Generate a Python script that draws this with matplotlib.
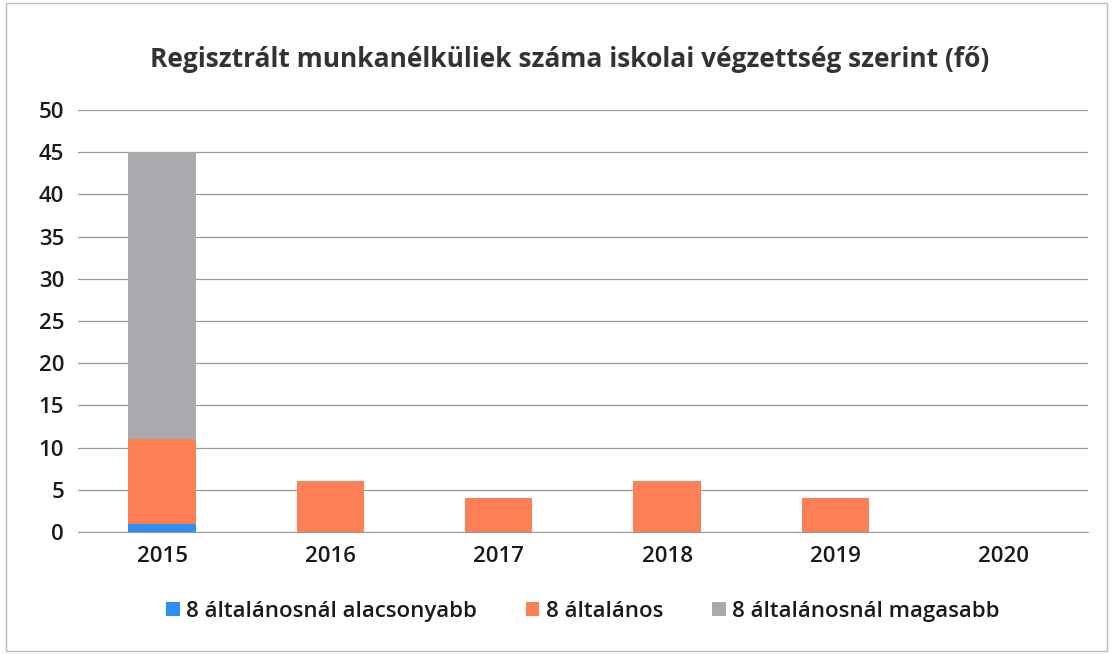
import matplotlib.pyplot as plt
import numpy as np

# data
years = ["2015", "2016", "2017", "2018", "2019", "2020"]
below_8 = [1, 0, 0, 0, 0, 0]
eight_grade = [10, 6, 4, 6, 4, 0]
above_8 = [34, 0, 0, 0, 0, 0]
labels = ["8 általánosnál alacsonyabb", "8 általános", "8 általánosnál magasabb"]
colors = ["#2f8ff0", "#fd7f55", "#a8aaae"]

plt.rcParams["font.family"] = ["Open Sans", "DejaVu Sans"]

fig = plt.figure(figsize=(11.13, 6.54), dpi=100)
ax = fig.add_axes([0.0700, 0.1865, 0.9075, 0.6453])

x = np.arange(len(years))
w = 0.4
b1 = np.array(below_8)
b2 = b1 + np.array(eight_grade)
ax.bar(x, below_8, w, color=colors[0], label=labels[0], zorder=3)
ax.bar(x, eight_grade, w, bottom=b1, color=colors[1], label=labels[1], zorder=3)
ax.bar(x, above_8, w, bottom=b2, color=colors[2], label=labels[2], zorder=3)

ax.set_xlim(-0.5, len(years) - 0.5)
ax.set_ylim(0, 50)
ax.set_yticks(range(0, 51, 5))
ax.set_xticks(x)
ax.set_xticklabels(years)
ax.tick_params(axis="y", length=0, labelsize=16, pad=10, colors="#1a1a1a")
ax.tick_params(axis="x", length=0, labelsize=16, pad=10, colors="#1a1a1a")
for t in ax.get_xticklabels() + ax.get_yticklabels():
    t.set_fontweight("semibold")
ax.grid(axis="y", color="#9a9a9a", linewidth=0.9, zorder=0)
for s in ["top", "right", "left"]:
    ax.spines[s].set_visible(False)
ax.spines["bottom"].set_color("#9a9a9a")

fig.suptitle("Regisztrált munkanélküliek száma iskolai végzettség szerint (fő)",
             x=0.512, y=0.93, fontsize=19, fontweight="bold", color="#333333")

leg = ax.legend(loc="upper center", bbox_to_anchor=(0.5, -0.115), ncol=3, frameon=False,
                fontsize=16, handlelength=0.6, handleheight=0.6, handletextpad=0.3,
                columnspacing=2.2)
for t in leg.get_texts():
    t.set_fontweight("semibold")
    t.set_color("#1a1a1a")

fig.patches.append(plt.Rectangle((0.005, 0.005), 0.99, 0.99, transform=fig.transFigure,
                                 fill=False, edgecolor="#bbbbbb", linewidth=1))

fig.savefig("out.png", dpi=100)
